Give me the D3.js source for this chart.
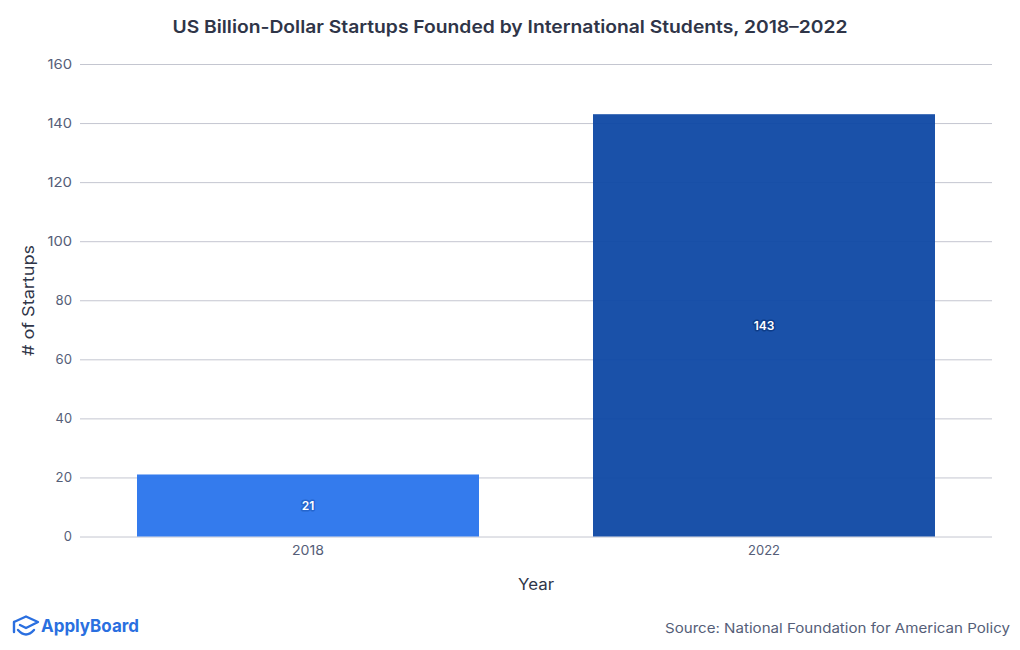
<!DOCTYPE html>
<html><head><meta charset="utf-8">
<script src="https://cdn.jsdelivr.net/npm/d3@7"></script>
<style>
html,body{margin:0;padding:0;background:#fff}
text{font-family:Inter,"Open Sans",sans-serif}
</style></head><body>
<svg id="c" width="1020" height="650"></svg>
<script>
const years = ["2018", "2022"];
const startups = [21, 143];
const barColors = ["#2974ec", "#0e48a4"];
const haloColors = ["#2566cf", "#0d3d8a"];
const yTicks = [0, 20, 40, 60, 80, 100, 120, 140, 160];
const titleText = "US Billion-Dollar Startups Founded by International Students, 2018–2022";
const xTitle = "Year";
const yTitle = "# of Startups";
const sourceText = "Source: National Foundation for American Policy";
const logoText = "ApplyBoard";

const svg = d3.select("#c");
const x = d3.scaleBand().domain(years).range([80, 992]).paddingInner(0.25).paddingOuter(0.125);
const y = d3.scaleLinear().domain([0, 160]).range([536.5, 64]);
const stretch = (s, w) => s.attr("textLength", w).attr("lengthAdjust", "spacingAndGlyphs");

svg.append("text").attr("x", 510).attr("y", 33).attr("text-anchor", "middle")
  .attr("font-size", 17.5).attr("font-weight", 600).attr("fill", "#2f3548").text(titleText)
  .call(stretch, 675);

const gridG = svg.append("g").attr("class", "y-axis")
  .attr("transform", "translate(80,0)")
  .call(d3.axisLeft(y).tickValues(yTicks).tickSize(-912).tickPadding(8));
gridG.select(".domain").remove();
gridG.selectAll("line").attr("stroke", "#c4c6d0").attr("stroke-width", 1);
gridG.selectAll("text").attr("font-size", 13.5).attr("fill", "#555e78")
  .style("font-family", "Inter,sans-serif")
  .attr("dy", "0.3em")
  .each(function (d) { d3.select(this).call(stretch, String(d).length * 8.2); });

svg.selectAll("rect.bar").data(years).join("rect").attr("class", "bar")
  .attr("x", d => x(d)).attr("width", x.bandwidth())
  .attr("y", (d, i) => y(startups[i]))
  .attr("height", (d, i) => y(0) - y(startups[i]))
  .attr("fill", (d, i) => barColors[i]).attr("fill-opacity", 0.95);

svg.selectAll("text.val").data(years).join("text").attr("class", "val")
  .attr("x", d => x(d) + x.bandwidth() / 2)
  .attr("y", (d, i) => (y(startups[i]) + y(0)) / 2 + 5)
  .attr("text-anchor", "middle").attr("font-size", 12).attr("font-weight", 600)
  .attr("fill", "#fff").attr("stroke", (d, i) => haloColors[i])
  .attr("stroke-width", 3).attr("paint-order", "stroke").attr("stroke-linejoin", "round")
  .text((d, i) => startups[i]);

const xG = svg.append("g").attr("class", "x-axis")
  .attr("transform", "translate(0,536.5)")
  .call(d3.axisBottom(x).tickSize(0).tickPadding(9));
xG.select(".domain").remove();
xG.selectAll("text").attr("font-size", 13.5).attr("fill", "#555e78")
  .style("font-family", "Inter,sans-serif").call(stretch, 32);

svg.append("text").attr("x", 536).attr("y", 590).attr("text-anchor", "middle")
  .attr("font-size", 15.5).attr("font-weight", 400).attr("fill", "#2f3548").text(xTitle).call(stretch, 36);
svg.append("text").attr("transform", "translate(34,300.5) rotate(-90)").attr("text-anchor", "middle")
  .attr("font-size", 15.5).attr("font-weight", 400).attr("fill", "#2f3548").text(yTitle).call(stretch, 111);

svg.append("text").attr("x", 1010).attr("y", 633).attr("text-anchor", "end")
  .attr("font-size", 13.5).attr("fill", "#555e78").text(sourceText).call(stretch, 345);

// logo
const logo = svg.append("g").attr("fill", "none").attr("stroke", "#2a6fe0")
  .attr("stroke-width", 2.4).attr("stroke-linecap", "round").attr("stroke-linejoin", "round");
logo.append("path").attr("d", "M14 622 L26 616.5 L38 622 L26 628 L20 625 M14 622 L14 632");
logo.append("path").attr("d", "M18 630 Q26 639 34 630");
svg.append("text").attr("x", 41).attr("y", 632).attr("font-size", 17.5).attr("font-weight", 700)
  .attr("fill", "#2a6fe0").text(logoText).call(stretch, 98);
</script>
</body></html>
